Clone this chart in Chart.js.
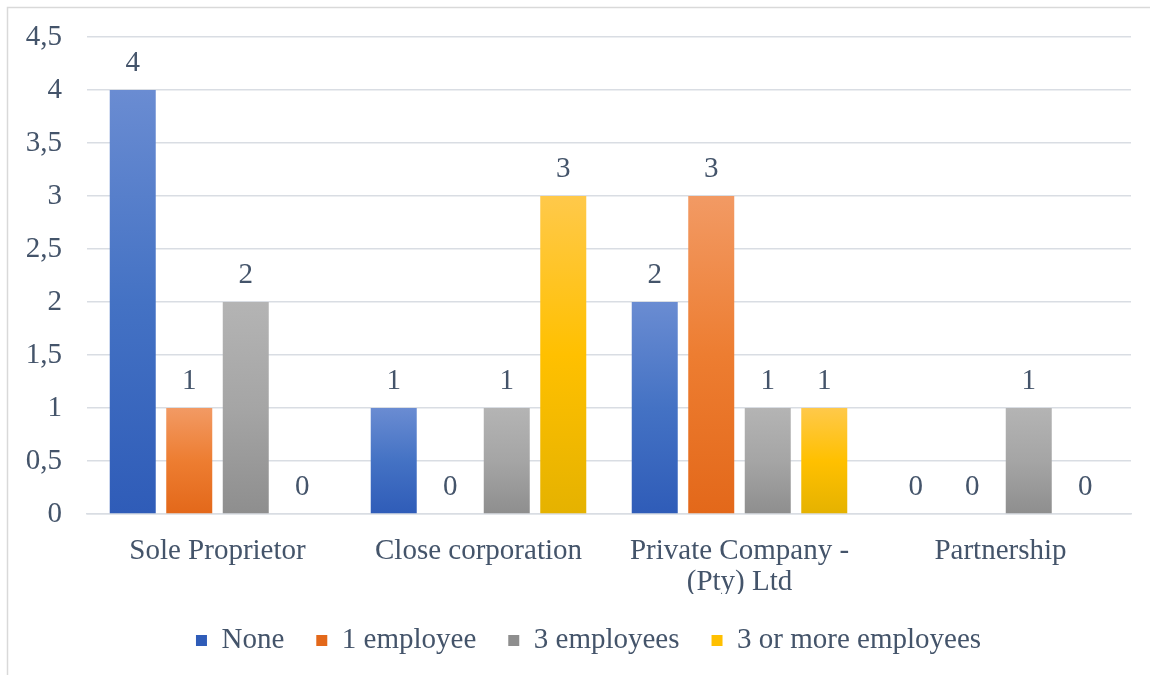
<!DOCTYPE html>
<html>
<head>
<meta charset="utf-8">
<script src="https://cdn.jsdelivr.net/npm/chart.js@4/dist/chart.umd.min.js"></script>
<style>
  html, body { margin: 0; padding: 0; background: #fff; }
  #wrap { width: 1150px; height: 675px; position: relative; }
</style>
</head>
<body>
<div id="wrap"><canvas id="bizChart" width="1150" height="675"></canvas></div>
<script>
// categories and counts per number of employees
const categories = ['Sole Proprietor', 'Close corporation', ['Private Company -', '(Pty) Ltd'], 'Partnership'];
const seriesNames = ['None', '1 employee', '3 employees', '3 or more employees'];
const noneVals = [4, 1, 2, 0];
const oneEmpVals = [1, 0, 3, 0];
const threeEmpVals = [2, 1, 1, 1];
const threePlusVals = [0, 3, 1, 0];

// [top, middle, bottom] gradient stops for each series
const palettes = [
  ['#6a8cd2', '#4472c4', '#2f5cb8'],
  ['#f29a64', '#ed7d31', '#e3681a'],
  ['#b4b4b4', '#a5a5a5', '#8e8e8e'],
  ['#ffc94a', '#ffc000', '#e5b200']
];

const textColor = '#44546a';
const fontFamily = '"Liberation Serif", "Times New Roman", serif';
const fontSize = 29;

function barFill(idx) {
  return function (ctx) {
    const pal = palettes[idx];
    if (ctx.type !== 'data') return pal[1];
    const chart = ctx.chart;
    const y = chart.scales.y;
    if (!y) return pal[1];
    const top = y.getPixelForValue(ctx.raw);
    const base = y.getPixelForValue(0);
    if (!isFinite(top) || !isFinite(base) || base - top < 1) return pal[1];
    const g = chart.ctx.createLinearGradient(0, top, 0, base);
    g.addColorStop(0, pal[0]);
    g.addColorStop(0.5, pal[1]);
    g.addColorStop(1, pal[2]);
    return g;
  };
}

// white background and thin frame around the chart
const framePlugin = {
  id: 'frame',
  beforeDraw(chart) {
    const c = chart.ctx;
    c.save();
    c.fillStyle = '#fff';
    c.fillRect(0, 0, chart.width, chart.height);
    c.strokeStyle = '#d9d9d9';
    c.lineWidth = 1.5;
    c.strokeRect(7.5, 7.5, chart.width + 20, chart.height + 20);
    c.restore();
  }
};

// legend sits a little right of the canvas centre
const legendShift = {
  id: 'legendShift',
  afterLayout(chart) {
    if (chart.legend) {
      chart.legend.left += 19;
      chart.legend.right += 19;
    }
  }
};

// value above every bar
const valueLabels = {
  id: 'valueLabels',
  afterDatasetsDraw(chart) {
    const c = chart.ctx;
    c.save();
    c.font = fontSize + 'px ' + fontFamily;
    c.fillStyle = textColor;
    c.textAlign = 'center';
    c.textBaseline = 'alphabetic';
    chart.data.datasets.forEach((ds, i) => {
      const meta = chart.getDatasetMeta(i);
      meta.data.forEach((bar, j) => {
        c.fillText(String(ds.data[j]), bar.x, bar.y - 19);
      });
    });
    c.restore();
  }
};

const allVals = [noneVals, oneEmpVals, threeEmpVals, threePlusVals];

new Chart(document.getElementById('bizChart'), {
  type: 'bar',
  data: {
    labels: categories,
    datasets: seriesNames.map((name, i) => ({
      label: name,
      data: allVals[i],
      backgroundColor: barFill(i),
      borderWidth: 0,
      categoryPercentage: 0.866,
      barPercentage: 0.814
    }))
  },
  options: {
    responsive: false,
    animation: false,
    layout: { padding: { left: 8, top: 37, right: 19, bottom: 10 } },
    plugins: {
      tooltip: { enabled: false },
      legend: {
        position: 'bottom',
        labels: {
          color: textColor,
          font: { family: fontFamily, size: fontSize },
          boxWidth: 11,
          boxHeight: 11,
          padding: 32
        }
      }
    },
    scales: {
      x: {
        grid: { display: false },
        border: { display: true, color: '#d9dde3', width: 1.5 },
        ticks: {
          color: textColor,
          font: { family: fontFamily, size: fontSize, lineHeight: 1.1 },
          padding: 13,
          maxRotation: 0,
          autoSkip: false
        },
        afterFit(scale) { scale.height = 80; }
      },
      y: {
        min: 0,
        max: 4.5,
        grid: { color: '#d9dde3', lineWidth: 1.5, drawTicks: false },
        border: { display: false },
        ticks: {
          stepSize: 0.5,
          color: textColor,
          // small lineHeight so the label padding does not push the plot top down
          font: { family: fontFamily, size: fontSize, lineHeight: 0.5 },
          padding: 25,
          callback: v => String(v).replace('.', ',')
        },
        afterFit(scale) { scale.width = 79; }
      }
    }
  },
  plugins: [framePlugin, legendShift, valueLabels]
});
</script>
</body>
</html>
